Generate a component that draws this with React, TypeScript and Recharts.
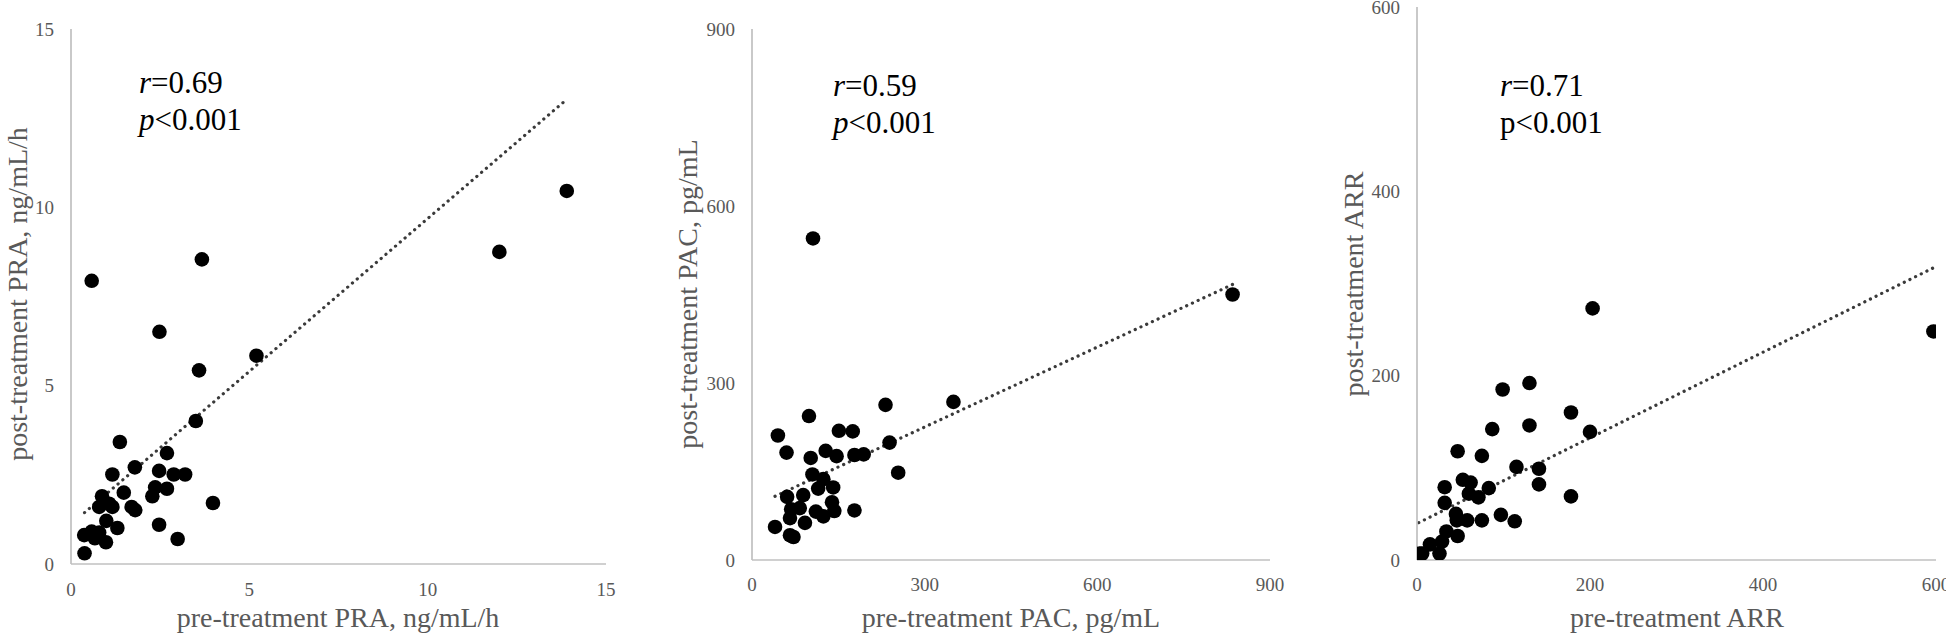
import { ScatterChart, Scatter, XAxis, YAxis, ReferenceLine } from 'recharts';

// PRA panel (ng/mL/h)
const praPre = [0.58, 3.67, 2.48, 5.2, 3.59, 3.5, 1.37, 2.69, 1.79, 2.47, 1.16, 2.88, 3.2, 2.36, 2.69, 2.28, 1.48, 0.87, 0.79, 1.07, 1.16, 1.7, 1.8, 3.98, 0.99, 1.3, 2.47, 0.37, 0.58, 0.79, 0.67, 0.98, 2.99, 0.38, 12.01, 13.9];
const praPost = [7.94, 8.54, 6.51, 5.84, 5.43, 4.01, 3.42, 3.11, 2.71, 2.61, 2.51, 2.51, 2.51, 2.15, 2.11, 1.9, 2.0, 1.9, 1.6, 1.69, 1.6, 1.6, 1.51, 1.71, 1.21, 1.01, 1.1, 0.81, 0.91, 0.88, 0.72, 0.61, 0.7, 0.3, 8.75, 10.46];
const praTrend = [{ x: 0.38, y: 1.44 }, { x: 13.81, y: 12.95 }];
const praTicks = [0, 5, 10, 15];

// PAC panel (pg/mL)
const pacPre = [106, 835, 350, 232, 99, 45, 151, 175, 239, 60, 128, 147, 102, 178, 194, 254, 105, 124, 115, 141, 61, 89, 139, 68, 83, 111, 124, 143, 178, 66, 92, 40, 66, 72];
const pacPost = [545, 450, 268, 263, 244, 211, 219, 218, 199, 182, 185, 176, 173, 178, 179, 148, 145, 137, 121, 123, 107, 110, 98, 86, 88, 82, 74, 83, 84, 71, 63, 56, 42, 39];
const pacTrend = [{ x: 40, y: 108 }, { x: 835, y: 467 }];
const pacTicks = [0, 300, 600, 900];

// ARR panel
const arrPre = [203, 597, 130, 99, 178, 130, 87, 200, 47, 75, 115, 141, 53, 62, 32, 141, 83, 60, 71, 178, 32, 45, 97, 46, 58, 75, 113, 34, 47, 29, 15, 3, 6, 26];
const arrPost = [273, 248, 192, 185, 160, 146, 142, 139, 118, 113, 101, 99, 87, 84, 79, 82, 78, 72, 68, 69, 62, 50, 49, 43, 43, 43, 42, 31, 26, 20, 17, 7, 7, 7];
const arrTrend = [{ x: 2, y: 40.5 }, { x: 597, y: 317 }];
const arrTicks = [0, 200, 400, 600];

const FONT = '"Liberation Serif", "Times New Roman", serif';
const GRAY = '#595959';

const toPoints = (xs: number[], ys: number[]) => xs.map((x, i) => ({ x, y: ys[i] }));

const Dot = (props: any) => <circle cx={props.cx} cy={props.cy} r={7.3} fill="#000" />;

interface PanelProps {
  plot: [number, number, number, number]; // x0, y0, x1, y1 in page px
  xs: number[];
  ys: number[];
  trend: { x: number; y: number }[];
  ticks: number[];
  xMargin: number;
}

function Panel({ plot, xs, ys, trend, ticks, xMargin }: PanelProps) {
  const [x0, y0, x1, y1] = plot;
  const yAxisW = 60;
  const padTop = 20;
  const right = 40;
  const left = x0 - yAxisW - 5;
  const width = x1 - x0 + yAxisW + 5 + right;
  const max = ticks[ticks.length - 1];
  const tickStyle = { fill: GRAY, fontSize: 19, fontFamily: FONT };
  const axisLine = { stroke: '#c0c0c0', strokeWidth: 1.7 };
  return (
    <div style={{ position: 'absolute', left, top: -padTop }}>
      <ScatterChart width={width} height={638 + padTop} margin={{ top: y0 + padTop, right, bottom: 638 - y1 - 40, left: 5 }}>
        <XAxis type="number" dataKey="x" domain={[0, max]} ticks={ticks} interval={0} height={40}
          tickLine={false} axisLine={axisLine} tick={tickStyle} tickMargin={xMargin} allowDataOverflow />
        <YAxis type="number" dataKey="y" domain={[0, max]} ticks={ticks} interval={0} width={yAxisW}
          tickLine={false} axisLine={axisLine} tick={tickStyle} tickMargin={11} allowDataOverflow />
        <ReferenceLine segment={trend} stroke="#3a3a3a" strokeWidth={3.2} strokeDasharray="0.1 6.2"
          strokeLinecap="round" ifOverflow="visible" />
        <Scatter data={toPoints(xs, ys)} shape={Dot} isAnimationActive={false} />
      </ScatterChart>
    </div>
  );
}

const titleStyle: React.CSSProperties = {
  position: 'absolute', fontFamily: FONT, fontSize: 28, color: GRAY, whiteSpace: 'nowrap',
  lineHeight: '30px',
};

function XTitle({ cx, cy, text }: { cx: number; cy: number; text: string }) {
  return <div style={{ ...titleStyle, left: cx, top: cy, transform: 'translate(-50%, -50%)' }}>{text}</div>;
}

function YTitle({ cx, cy, text }: { cx: number; cy: number; text: string }) {
  return <div style={{ ...titleStyle, left: cx, top: cy, transform: 'translate(-50%, -50%) rotate(-90deg)' }}>{text}</div>;
}

function Stats({ left, top, r, p, italicP }: { left: number; top: number; r: string; p: string; italicP: boolean }) {
  return (
    <div style={{ position: 'absolute', left, top, fontFamily: FONT, fontSize: 31, lineHeight: '37px', color: '#000', whiteSpace: 'nowrap' }}>
      <div><i>r</i>={r}</div>
      <div>{italicP ? <i>p</i> : 'p'}&lt;{p}</div>
    </div>
  );
}

export default function App() {
  return (
    <div style={{ position: 'absolute', left: 0, top: 0, width: 1946, height: 638, overflow: 'hidden', background: '#fff' }}>
      <Panel plot={[71, 29, 606, 564]} xs={praPre} ys={praPost} trend={praTrend} ticks={praTicks} xMargin={13} />
      <Panel plot={[752, 29, 1270, 560]} xs={pacPre} ys={pacPost} trend={pacTrend} ticks={pacTicks} xMargin={12} />
      <Panel plot={[1417, 7, 1936, 560]} xs={arrPre} ys={arrPost} trend={arrTrend} ticks={arrTicks} xMargin={12} />

      <XTitle cx={338} cy={618} text="pre-treatment PRA, ng/mL/h" />
      <YTitle cx={18} cy={294} text="post-treatment PRA, ng/mL/h" />
      <XTitle cx={1011} cy={618} text="pre-treatment PAC, pg/mL" />
      <YTitle cx={688} cy={294} text="post-treatment PAC, pg/mL" />
      <XTitle cx={1677} cy={618} text="pre-treatment ARR" />
      <YTitle cx={1354} cy={284} text="post-treatment ARR" />

      <Stats left={139} top={64} r="0.69" p="0.001" italicP />
      <Stats left={833} top={67} r="0.59" p="0.001" italicP />
      <Stats left={1500} top={67} r="0.71" p="0.001" italicP={false} />
    </div>
  );
}
